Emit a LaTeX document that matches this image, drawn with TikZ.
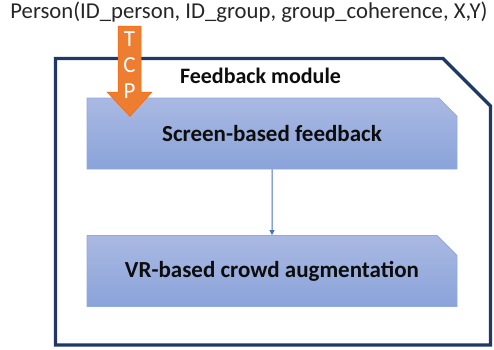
\documentclass[tikz,border=0pt]{standalone}
\usepackage{fontspec}
\setmainfont{Carlito}
\usetikzlibrary{positioning, arrows.meta, shapes.misc}

\definecolor{frameblue}{HTML}{203864}
\definecolor{boxtop}{HTML}{AAB9E2}
\definecolor{boxbottom}{HTML}{8AA3DA}
\definecolor{boxline}{HTML}{8FAADC}
\definecolor{linkblue}{HTML}{4472C4}
\definecolor{tcporange}{HTML}{ED7D31}

\begin{document}
\begin{tikzpicture}[
    x=1pt, y=-1pt,
    stagebox/.style={chamfered rectangle, chamfered rectangle corners=north east,
        chamfered rectangle xsep=10pt, chamfered rectangle ysep=10pt,
        top color=boxtop, bottom color=boxbottom, draw=boxline, line width=0.8pt,
        minimum width=370pt, minimum height=71pt, inner sep=0pt,
        font=\fontsize{23}{27}\selectfont\bfseries, text=black!95},
    link/.style={-{Triangle[length=5pt, width=5pt]}, draw=linkblue, line width=1pt}
]
    \useasboundingbox (0,0) rectangle (494,349);

    % === Frame ===
    \draw[frameblue, line width=3.3pt] (55.5,58.5) -- (443,58.5) -- (490.5,106)
        -- (490.5,345) -- (55.5,345) -- cycle;
    \node[font=\fontsize{22}{26}\selectfont\bfseries, text=black!95, anchor=base]
        (title) at (260.5,83.5) {Feedback module};

    % === Stages ===
    \node[stagebox] (screen) at (272,133.5) {Screen-based feedback};
    \node[stagebox] (vr) at (272,271) {VR-based crowd augmentation};
    \draw[link] (screen) -- (vr);

    % === Input ===
    \node[font=\fontsize{22.7}{27}\selectfont, text=black!85, anchor=base]
        (person) at (249,18.5) {Person(ID\_person, ID\_group, group\_coherence, X,Y)};

    % TCP arrow
    \draw[fill=tcporange, draw=orange!80!red, line width=0.5pt] (118,26) -- (141,26)
        -- (141,92) -- (152,92) -- (130,116.5) -- (107,92) -- (118,92) -- cycle;
    \node[font=\fontsize{23}{26}\selectfont, text=white, align=center, inner sep=0pt]
        (tcp) at (129.5,65.5) {T\\C\\P};
\end{tikzpicture}
\end{document}
